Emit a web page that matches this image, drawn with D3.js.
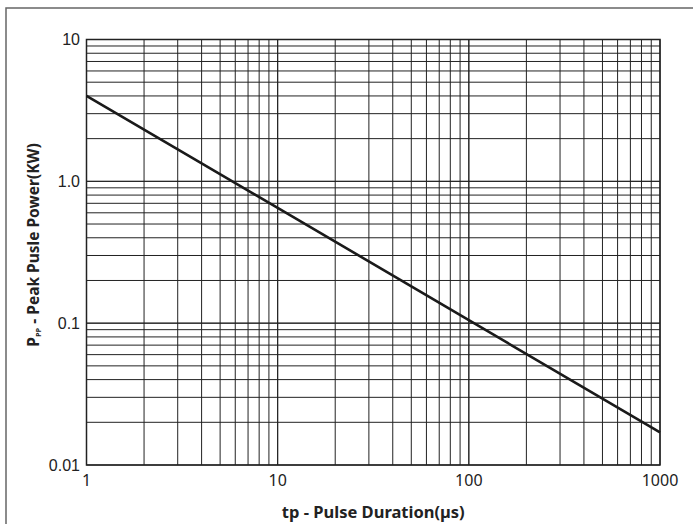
<!DOCTYPE html>
<html>
<head>
<meta charset="utf-8">
<script src="https://cdn.jsdelivr.net/npm/d3@7"></script>
<style>
  body { margin: 0; background: #fff; }
  svg { display: block; }
</style>
</head>
<body>
<div id="chart"></div>
<script>
// pulse duration (us) vs peak pulse power (kW)
var pulseUs = [1, 10, 100, 1000];
var powerKW = [4.0, 0.65, 0.105, 0.017];

var xTicks = [1, 10, 100, 1000];
var xTickLabels = ["1", "10", "100", "1000"];
var yTicks = [0.01, 0.1, 1, 10];
var yTickLabels = ["0.01", "0.1", "1.0", "10"];

var width = 693, height = 524;
var margin = {left: 86.5, right: 33, top: 39.5, bottom: 59};

var svg = d3.select("#chart").append("svg")
  .attr("width", width)
  .attr("height", height);

// outer frame, runs off the right and bottom edge
svg.append("rect")
  .attr("x", 6).attr("y", 8)
  .attr("width", width).attr("height", height)
  .attr("fill", "none")
  .attr("stroke", "#666")
  .attr("stroke-width", 1.5);

var xs = d3.scaleLog().domain([1, 1000]).range([margin.left, width - margin.right]);
var ys = d3.scaleLog().domain([0.01, 10]).range([height - margin.bottom, margin.top]);

// minor + major grid values
var xGrid = [], yGrid = [];
[1, 10, 100].forEach(function(d) { for (var k = 1; k <= 10; k++) xGrid.push(d * k); });
[0.01, 0.1, 1].forEach(function(d) { for (var k = 1; k <= 10; k++) yGrid.push(d * k); });

var g = svg.append("g");

g.selectAll(".vx").data(xGrid).enter().append("line")
  .attr("x1", function(d) { return xs(d); })
  .attr("x2", function(d) { return xs(d); })
  .attr("y1", ys(0.01)).attr("y2", ys(10))
  .attr("stroke", "#222").attr("stroke-width", 1);

g.selectAll(".hy").data(yGrid).enter().append("line")
  .attr("y1", function(d) { return ys(d); })
  .attr("y2", function(d) { return ys(d); })
  .attr("x1", xs(1)).attr("x2", xs(1000))
  .attr("stroke", "#222").attr("stroke-width", 1);

// frame of plot
g.append("rect")
  .attr("x", xs(1)).attr("y", ys(10))
  .attr("width", xs(1000) - xs(1))
  .attr("height", ys(0.01) - ys(10))
  .attr("fill", "none")
  .attr("stroke", "#222")
  .attr("stroke-width", 1.5);

// curve
var pts = pulseUs.map(function(d, i) { return [d, powerKW[i]]; });
var line = d3.line()
  .x(function(d) { return xs(d[0]); })
  .y(function(d) { return ys(d[1]); });

svg.append("path")
  .datum(pts)
  .attr("fill", "none")
  .attr("stroke", "#1a1a1a")
  .attr("stroke-width", 2.6)
  .attr("d", line);

// y tick labels
svg.selectAll(".yt").data(yTicks).enter().append("text")
  .attr("x", 80)
  .attr("y", function(d) { return ys(d); })
  .attr("dy", "0.36em")
  .attr("text-anchor", "end")
  .style("font-family", "'Liberation Sans', Arial, sans-serif")
  .style("font-size", "16px")
  .style("fill", "#222")
  .text(function(d, i) { return yTickLabels[i]; });

// x tick labels
svg.selectAll(".xt").data(xTicks).enter().append("text")
  .attr("x", function(d) { return xs(d); })
  .attr("y", 486)
  .attr("text-anchor", "middle")
  .style("font-family", "'Noto Sans', sans-serif")
  .style("font-size", "16px")
  .style("fill", "#222")
  .text(function(d, i) { return xTickLabels[i]; });

// x title
svg.append("text")
  .attr("x", (xs(1) + xs(1000)) / 2)
  .attr("y", 518)
  .attr("text-anchor", "middle")
  .style("font-family", "'Noto Sans', sans-serif")
  .style("font-weight", "bold")
  .style("font-size", "16.5px")
  .style("fill", "#222")
  .text("tp - Pulse Duration(\u00b5s)");

// y title with subscript
var yt = svg.append("text")
  .attr("transform", "translate(39,245) rotate(-90)")
  .attr("text-anchor", "middle")
  .style("font-family", "'Noto Sans', sans-serif")
  .style("font-weight", "bold")
  .style("font-size", "15.5px")
  .style("fill", "#222");
yt.append("tspan").text("P");
yt.append("tspan").attr("dy", 2).style("font-size", "7.5px").text("PP");
yt.append("tspan").attr("dy", -2).text(" - Peak Pusle Power(KW)");
</script>
</body>
</html>
